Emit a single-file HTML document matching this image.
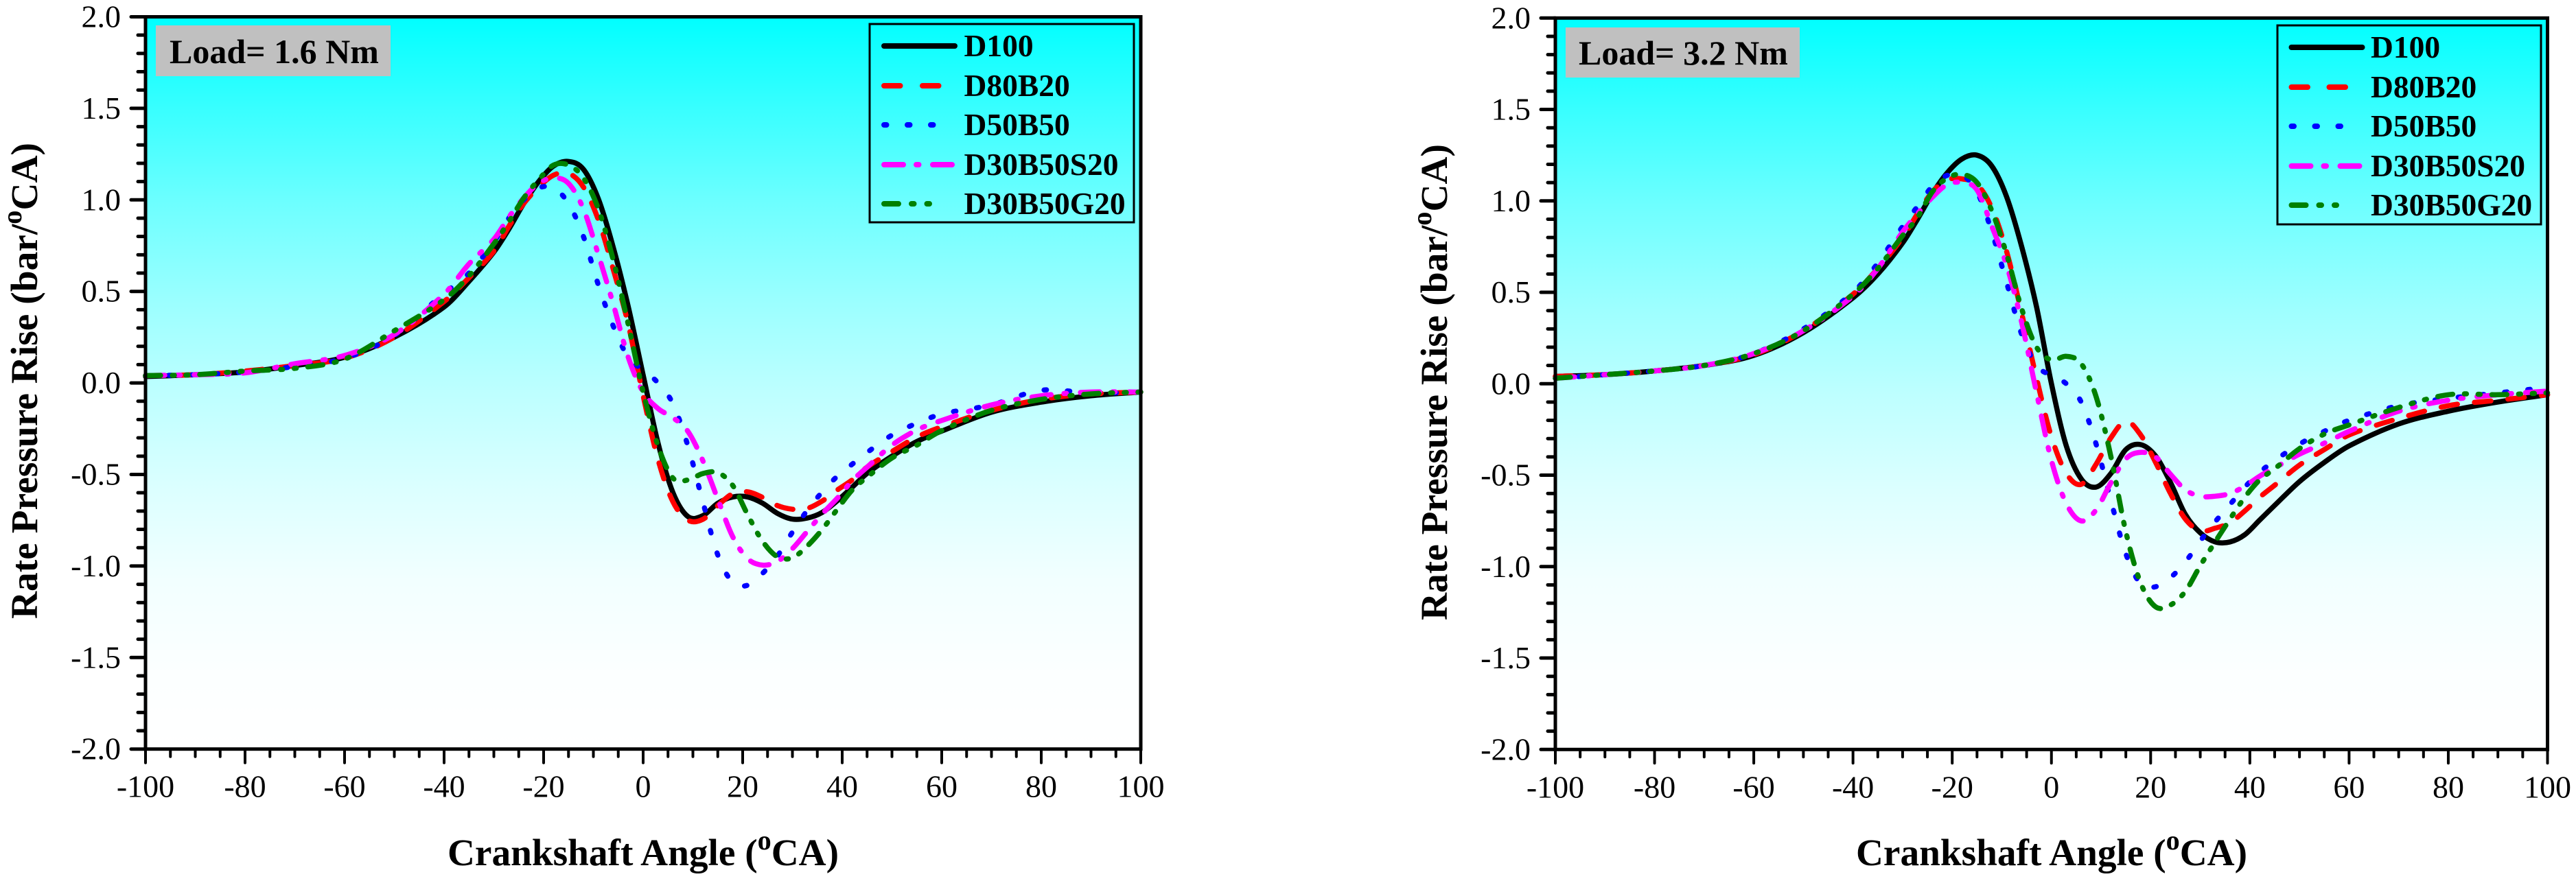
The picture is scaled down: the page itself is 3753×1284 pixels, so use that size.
<!DOCTYPE html>
<html lang="en">
<head>
<meta charset="utf-8">
<title>Rate of Pressure Rise vs Crankshaft Angle</title>
<style>
html,body{margin:0;padding:0;background:#fff;width:3753px;height:1284px;overflow:hidden}
svg{display:block;font-family:"Liberation Serif","Times New Roman",serif;fill:#000}
.tick{stroke:#000;stroke-linecap:round}
.axis{stroke:#000;stroke-width:5;fill:none;stroke-linecap:square}
.tl{font-size:46px}
.title{font-size:55px;font-weight:bold}
.load{font-size:50px;font-weight:bold}
.lg{font-size:45.5px;font-weight:bold}
.curve{fill:none;stroke-width:7.5;stroke-linecap:round;stroke-linejoin:round}
.lgline{fill:none;stroke-width:8;stroke-linecap:round}
.k{stroke:#000}
.r{stroke:#f00}
.b{stroke:#00f}
.m{stroke:#f0f}
.g{stroke:#008000}
</style>
</head>
<body>
<svg id="chart" xmlns="http://www.w3.org/2000/svg" width="3753" height="1284" viewBox="0 0 3753 1284">
  <defs>
    <linearGradient id="bgGrad" x1="0" y1="0" x2="0" y2="1">
      <stop offset="0" stop-color="#00ffff"/>
      <stop offset="0.125" stop-color="#38ffff"/>
      <stop offset="0.254" stop-color="#6dffff"/>
      <stop offset="0.383" stop-color="#99ffff"/>
      <stop offset="0.512" stop-color="#bdffff"/>
      <stop offset="0.642" stop-color="#dbffff"/>
      <stop offset="0.77" stop-color="#f2ffff"/>
      <stop offset="0.899" stop-color="#fcffff"/>
      <stop offset="1" stop-color="#ffffff"/>
    </linearGradient>
  </defs>

  <g id="panel-a">
    <rect x="212" y="24.5" width="1450" height="1067.2" fill="url(#bgGrad)"/>
  </g>
  <g id="panel-b">
    <rect x="2266" y="26.3" width="1445.5" height="1066" fill="url(#bgGrad)"/>
  </g>

  <!-- Panel A static annotation -->
  <g id="static-a">
    <rect x="227" y="37" width="342" height="74" fill="#c0c0c0"/>
    <text class="load" x="247" y="92">Load= 1.6 Nm</text>
    <rect x="1267" y="35" width="385" height="289" fill="none" stroke="#000" stroke-width="3"/>
    <g>
      <line class="lgline k" x1="1288" y1="67" x2="1391" y2="67"/>
      <text class="lg" x="1404.5" y="82">D100</text>
    </g>
    <g>
      <line class="lgline r" x1="1288" y1="125" x2="1391" y2="125" stroke-dasharray="23.5 32.5"/>
      <text class="lg" x="1404.5" y="140">D80B20</text>
    </g>
    <g>
      <line class="lgline b" x1="1288" y1="182" x2="1360" y2="182" stroke-dasharray="3.5 30.5"/>
      <text class="lg" x="1404.5" y="197">D50B50</text>
    </g>
    <g>
      <line class="lgline m" x1="1288" y1="240" x2="1388" y2="240" stroke-dasharray="28 19 3.5 20.5"/>
      <text class="lg" x="1404.5" y="255">D30B50S20</text>
    </g>
    <g>
      <line class="lgline g" x1="1288" y1="297" x2="1354" y2="297" stroke-dasharray="21 19 3.5 19 3.5 19"/>
      <text class="lg" x="1404.5" y="312">D30B50G20</text>
    </g>
    <text class="title" x="937" y="1261" text-anchor="middle" textLength="570" lengthAdjust="spacingAndGlyphs">Crankshaft Angle (<tspan font-size="40" dy="-23">o</tspan><tspan dy="23">CA)</tspan></text>
    <text class="title" transform="translate(54,555) rotate(-90)" text-anchor="middle" textLength="694" lengthAdjust="spacingAndGlyphs">Rate Pressure Rise (bar/<tspan font-size="40" dy="-23">o</tspan><tspan dy="23">CA)</tspan></text>
  </g>

  <!-- Panel B static annotation -->
  <g id="static-b">
    <rect x="2281" y="40" width="341" height="73" fill="#c0c0c0"/>
    <text class="load" x="2300" y="94">Load= 3.2 Nm</text>
    <rect x="3318" y="37" width="384" height="290" fill="none" stroke="#000" stroke-width="3"/>
    <g>
      <line class="lgline k" x1="3338.5" y1="69" x2="3441.5" y2="69"/>
      <text class="lg" x="3454" y="84">D100</text>
    </g>
    <g>
      <line class="lgline r" x1="3338.5" y1="127" x2="3441.5" y2="127" stroke-dasharray="23.5 31.5"/>
      <text class="lg" x="3454" y="142">D80B20</text>
    </g>
    <g>
      <line class="lgline b" x1="3338.5" y1="184" x2="3410" y2="184" stroke-dasharray="3.5 30.5"/>
      <text class="lg" x="3454" y="199">D50B50</text>
    </g>
    <g>
      <line class="lgline m" x1="3338.5" y1="242" x2="3438" y2="242" stroke-dasharray="28 19 3.5 20.5"/>
      <text class="lg" x="3454" y="257">D30B50S20</text>
    </g>
    <g>
      <line class="lgline g" x1="3338.5" y1="299" x2="3404" y2="299" stroke-dasharray="21 19 3.5 19 3.5 19"/>
      <text class="lg" x="3454" y="314">D30B50G20</text>
    </g>
    <text class="title" x="2989" y="1261" text-anchor="middle" textLength="570" lengthAdjust="spacingAndGlyphs">Crankshaft Angle (<tspan font-size="40" dy="-23">o</tspan><tspan dy="23">CA)</tspan></text>
    <text class="title" transform="translate(2108,557) rotate(-90)" text-anchor="middle" textLength="694" lengthAdjust="spacingAndGlyphs">Rate Pressure Rise (bar/<tspan font-size="40" dy="-23">o</tspan><tspan dy="23">CA)</tspan></text>
  </g>
</svg>

<script>
// Shared sample angles (deg CA)
const angles = [-100,-90,-80,-70,-60,-50,-40,-35,-30,-27,-24,-21,-18,-15,-12,-9,-6,-3,0,3,6,9,12,15,18,21,24,27,30,33,36,39,42,45,50,55,60,70,80,90,100];

// Axis ticks
const xTickValues = [-100,-80,-60,-40,-20,0,20,40,60,80,100];
const xTickLabels = ['-100','-80','-60','-40','-20','0','20','40','60','80','100'];
const yTickValues = [2,1.5,1,0.5,0,-0.5,-1,-1.5,-2];
const yTickLabels = ['2.0','1.5','1.0','0.5','0.0','-0.5','-1.0','-1.5','-2.0'];

// Load = 1.6 Nm series (bar/deg CA)
const a_D100 = [.035,.045,.06,.095,.14,.25,.415,.555,.715,.84,.98,1.10,1.185,1.21,1.167,1.005,.74,.417,.043,-.33,-.60,-.73,-.725,-.657,-.623,-.623,-.657,-.713,-.744,-.738,-.707,-.644,-.57,-.494,-.40,-.32,-.263,-.16,-.105,-.07,-.05];
const a_D80B20 = [.04,.045,.065,.095,.135,.25,.445,.575,.72,.855,.98,1.07,1.135,1.145,1.07,.89,.62,.32,-.07,-.42,-.65,-.75,-.745,-.67,-.605,-.595,-.625,-.67,-.69,-.685,-.645,-.585,-.53,-.46,-.375,-.295,-.24,-.15,-.09,-.06,-.05];
const a_D50B50 = [.04,.045,.06,.09,.135,.26,.49,.60,.77,.90,1.0,1.065,1.065,.98,.80,.535,.31,.14,.07,0,-.115,-.345,-.65,-.94,-1.09,-1.105,-1.04,-.945,-.815,-.695,-.595,-.51,-.444,-.38,-.285,-.22,-.17,-.12,-.04,-.055,-.05];
const a_D30B50S20 = [.04,.045,.055,.105,.15,.265,.485,.65,.785,.905,1.01,1.09,1.12,1.09,.95,.70,.43,.14,-.05,-.14,-.19,-.265,-.425,-.635,-.84,-.96,-.995,-.975,-.905,-.81,-.715,-.63,-.535,-.46,-.34,-.257,-.205,-.12,-.07,-.05,-.05];
const a_D30B50G20 = [.04,.045,.065,.08,.13,.285,.455,.585,.76,.88,1.01,1.11,1.19,1.19,1.12,.95,.67,.32,-.05,-.345,-.52,-.53,-.495,-.49,-.56,-.72,-.865,-.95,-.955,-.89,-.80,-.69,-.585,-.515,-.41,-.34,-.26,-.15,-.09,-.06,-.05];

// Load = 3.2 Nm series (bar/deg CA)
const b_D100 = [.04,.05,.07,.1,.155,.28,.47,.60,.77,.90,1.04,1.154,1.23,1.25,1.19,1.02,.75,.42,0,-.34,-.52,-.565,-.49,-.36,-.333,-.395,-.54,-.715,-.815,-.865,-.865,-.825,-.745,-.665,-.535,-.43,-.34,-.22,-.15,-.10,-.06];
const b_D80B20 = [.04,.05,.07,.1,.16,.29,.49,.63,.80,.93,1.05,1.115,1.12,1.09,.96,.72,.385,.03,-.29,-.49,-.55,-.44,-.295,-.205,-.28,-.43,-.60,-.74,-.805,-.79,-.76,-.695,-.62,-.555,-.445,-.36,-.28,-.19,-.12,-.09,-.06];
const b_D50B50 = [.03,.05,.07,.1,.165,.30,.5,.66,.86,.97,1.08,1.14,1.14,1.05,.83,.55,.27,.10,.045,0,-.10,-.33,-.64,-.93,-1.095,-1.11,-1.06,-.975,-.86,-.755,-.66,-.565,-.484,-.42,-.33,-.26,-.20,-.12,-.08,-.05,-.02];
const b_D30B50S20 = [.03,.05,.07,.1,.165,.29,.48,.63,.83,.93,1.02,1.09,1.10,1.06,.86,.645,.335,-.05,-.42,-.655,-.75,-.69,-.54,-.41,-.375,-.40,-.495,-.58,-.615,-.615,-.60,-.56,-.505,-.46,-.385,-.325,-.26,-.15,-.09,-.06,-.04];
const b_D30B50G20 = [.03,.05,.07,.1,.165,.29,.49,.63,.81,.91,1.05,1.125,1.145,1.10,.945,.705,.41,.20,.13,.15,.11,-.07,-.40,-.81,-1.09,-1.22,-1.21,-1.135,-.995,-.865,-.74,-.62,-.525,-.465,-.355,-.275,-.225,-.13,-.06,-.06,-.05];

const seriesNames = ['d100','d80b20','d50b50','d30b50s20','d30b50g20'];
const panelASeries = [a_D100,a_D80B20,a_D50B50,a_D30B50S20,a_D30B50G20];
const panelBSeries = [b_D100,b_D80B20,b_D50B50,b_D30B50S20,b_D30B50G20];

const SVGNS = 'http://www.w3.org/2000/svg';
const seriesClass = ['k','r','b','m','g'];
const seriesDash = ['', '24 25', '3.5 30.5', '28 19 3.5 20.5', '22 17 3 17 3 17'];

function el(tag, parent, attrs, txt) {
  const e = document.createElementNS(SVGNS, tag);
  for (const k in attrs) e.setAttribute(k, attrs[k]);
  if (txt !== undefined) e.textContent = txt;
  parent.appendChild(e);
  return e;
}

function smoothPath(px, py) {
  const n = px.length, m = [];
  for (let i = 0; i < n; i++) {
    if (i === 0) m.push((py[1]-py[0])/(px[1]-px[0]));
    else if (i === n-1) m.push((py[n-1]-py[n-2])/(px[n-1]-px[n-2]));
    else m.push((py[i+1]-py[i-1])/(px[i+1]-px[i-1]));
  }
  let d = 'M' + px[0].toFixed(1) + ' ' + py[0].toFixed(1);
  for (let i = 0; i < n-1; i++) {
    const h = (px[i+1]-px[i])/3;
    d += 'C' + (px[i]+h).toFixed(1) + ' ' + (py[i]+m[i]*h).toFixed(1) + ' ' +
         (px[i+1]-h).toFixed(1) + ' ' + (py[i+1]-m[i+1]*h).toFixed(1) + ' ' +
         px[i+1].toFixed(1) + ' ' + py[i+1].toFixed(1);
  }
  return d;
}

function drawPanel(rootId, staticId, left, right, top, bottom, series) {
  const root = document.getElementById(rootId);
  const xS = a => left + (a + 100) / 200 * (right - left);
  const yS = v => top + (2 - v) / 4 * (bottom - top);

  const curves = el('g', root, {});
  
  
  series.forEach((vals, s) => {
    const attrs = {
      'class': 'curve ' + seriesClass[s],
      d: smoothPath(angles.map(xS), vals.map(yS))
    };
    if (seriesDash[s]) attrs['stroke-dasharray'] = seriesDash[s];
    const p = el('path', curves, attrs);
    
    
  });

  const frame = el('rect', root, {
    'class': 'axis', x: left, y: top, width: right - left, height: bottom - top
  });
  
  

  const xAxis = el('g', root, {});
  
  
  for (let a = -100; a <= 100; a += 5) {
    const major = a % 20 === 0;
    const t = el('line', xAxis, {
      'class': 'tick', x1: xS(a), x2: xS(a), y1: bottom, y2: bottom + (major ? 20 : 11), 'stroke-width': 4
    });
    
    
  }
  xTickValues.forEach((a, i) => {
    const t = el('text', xAxis, {
      'class': 'tl', x: xS(a), y: bottom + 70, 'text-anchor': 'middle'
    }, xTickLabels[i]);
    
    
  });

  const yAxis = el('g', root, {});
  
  
  for (let k = -20; k <= 20; k++) {
    const major = k % 5 === 0;
    const v = k / 10;
    const t = el('line', yAxis, {
      'class': 'tick', x1: left, x2: left - (major ? 21 : 11), y1: yS(v), y2: yS(v), 'stroke-width': 5
    });
    
    
  }
  yTickValues.forEach((v, i) => {
    const t = el('text', yAxis, {
      'class': 'tl', x: left - 36, y: yS(v) + 15, 'text-anchor': 'end'
    }, yTickLabels[i]);
    
    
  });

  root.appendChild(document.getElementById(staticId));
}

drawPanel('panel-a', 'static-a', 212, 1662, 24.5, 1091.7, panelASeries);
drawPanel('panel-b', 'static-b', 2266, 3711.5, 26.3, 1092.3, panelBSeries);
</script>
</body>
</html>
